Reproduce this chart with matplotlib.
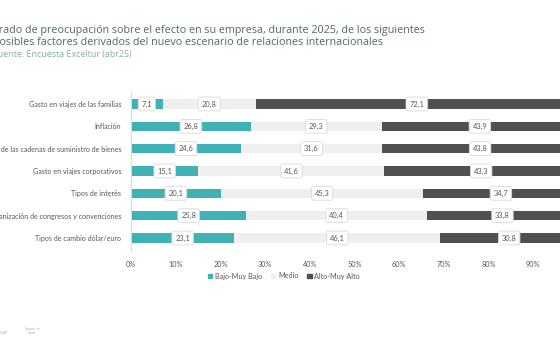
import matplotlib
matplotlib.use("Agg")
import matplotlib.pyplot as plt
from matplotlib.patches import Patch

categories = [
    "Gasto en viajes de las familias",
    "Inflación",
    "Disrupción de las cadenas de suministro de bienes",
    "Gasto en viajes corporativos",
    "Tipos de interés",
    "Organización de congresos y convenciones",
    "Tipos de cambio dólar/euro",
]
bajo = [7.1, 26.8, 24.6, 15.1, 20.1, 25.8, 23.1]
medio = [20.8, 29.3, 31.6, 41.6, 45.3, 40.4, 46.1]
alto = [72.1, 43.9, 43.8, 43.3, 34.7, 33.8, 30.8]
series_names = ["Bajo-Muy Bajo", "Medio", "Alto-Muy Alto"]
xticks = [0, 10, 20, 30, 40, 50, 60, 70, 80, 90]

colors = ["#3fb1b7", "#efefef", "#505050"]
W, H = 560, 341
plt.rcParams["font.family"] = ["Open Sans", "DejaVu Sans"]
narrow = ["Lato", "DejaVu Sans"]
fig = plt.figure(figsize=(W / 100, H / 100), dpi=100)

ax_left = 131 / W
ax_w = 447 / W
ax_top = 90.6
ax_bot = 251.4
ax = fig.add_axes([ax_left, 1 - ax_bot / H, ax_w, (ax_bot - ax_top) / H])

ys = list(range(len(categories)))
left = [0] * len(categories)
for vals, col, name in zip([bajo, medio, alto], colors, series_names):
    ax.barh(ys, vals, left=left, height=0.42, color=col, label=name, zorder=2)
    for y, l, v in zip(ys, left, vals):
        ax.text(l + v / 2, y, f"{v:.1f}".replace(".", ","), ha="center", va="center",
                fontsize=5.4, color="#595959", zorder=3, family=narrow,
                bbox=dict(boxstyle="round,pad=0.45,rounding_size=0.3", fc="white",
                          ec="#d9d9d9", lw=0.6))
    left = [a + b for a, b in zip(left, vals)]

ax.set_ylim(6.6, -0.6)
ax.set_xlim(0, 100)
ax.set_yticks(ys)
ax.set_yticklabels(categories, fontsize=5.1, color="#595959", family=narrow)
ax.set_xticks(xticks)
ax.set_xticklabels([f"{t}%" for t in xticks], fontsize=5.2, color="#595959", family=narrow)
ax.tick_params(length=0, pad=7)
ax.tick_params(axis="y", pad=7)
for s in ["top", "right", "bottom"]:
    ax.spines[s].set_visible(False)
ax.spines["left"].set_color("#d9d9d9")
ax.spines["left"].set_linewidth(0.7)

handles = [Patch(color=c) for c in colors]
fig.legend(handles, series_names, loc="center", bbox_to_anchor=(284 / W, 1 - 276 / H),
           ncol=3, frameon=False, prop={"family": narrow, "size": 5.2},
           handlelength=0.6, handleheight=0.6,
           handletextpad=0.4, columnspacing=1.2, labelcolor="#595959")

fig.text(-9 / W, 1 - 30 / H,
         "Grado de preocupación sobre el efecto en su empresa, durante 2025, de los siguientes",
         fontsize=7.75, color="#4f6b62", va="center", ha="left")
fig.text(-7 / W, 1 - 43 / H,
         "posibles factores derivados del nuevo escenario de relaciones internacionales",
         fontsize=7.75, color="#4f6b62", va="center", ha="left")
fig.text(-7 / W, 1 - 55 / H, "Fuente: Encuesta Exceltur (abr25)",
         fontsize=6.4, color="#86b09c", va="center", ha="left")
fig.text(-15 / W, 1 - 333 / H, "exceltur", fontsize=4.5, color="#aaaaaa", va="center")
fig.text(32 / W, 1 - 331 / H, "Spain is\nSpin", fontsize=3, color="#aaaaaa",
         va="center", ha="center", linespacing=0.9)

fig.savefig("out.png", dpi=100)
